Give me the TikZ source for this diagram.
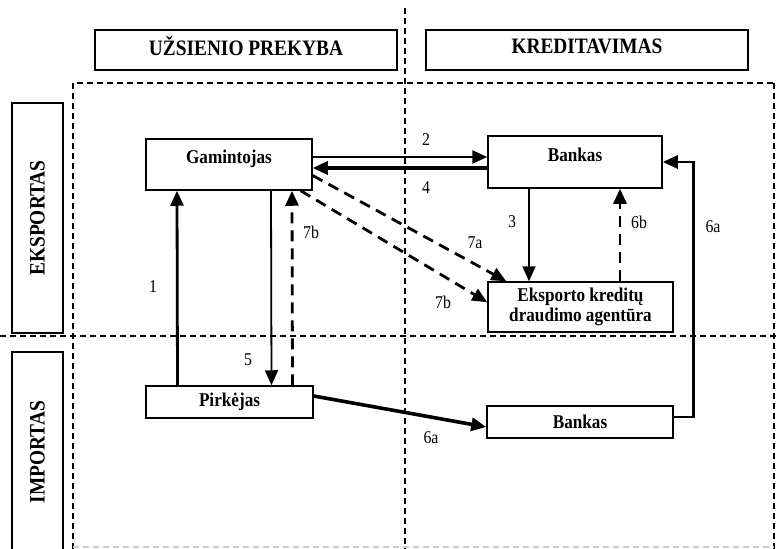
\documentclass[tikz,border=0pt]{standalone}
\usepackage{fontspec}
\setmainfont{Liberation Serif}[FakeStretch = 0.88]
\usetikzlibrary{arrows.meta}
\usetikzlibrary{positioning}
\tikzset{box/.style = {draw, line width = 1.5pt, inner sep = 0, font = \bfseries\fontsize{19.5}{20}\selectfont}}
\tikzset{headbox/.style = {box, font = \bfseries\fontsize{22}{24}\selectfont}}
\tikzset{num/.style = {font = \fontsize{18}{20}\selectfont}}
\tikzset{frame/.style = {line width = 1.2pt, dash pattern = on 6pt off 4pt}}
\tikzset{arr/.style = {line width = 2.8pt, -{Triangle[length = 15pt, width = 13pt]}}}
\tikzset{thinarr/.style = {arr, line width = 1.8pt}}
\tikzset{dasharr/.style = {arr, dash pattern = on 11pt off 7pt}}

\begin{document}
\begin{tikzpicture}[x = 1pt, y = -1pt]
          \useasboundingbox (0, 0) rectangle (777, 549);
          \draw [frame] (405, 8) -- (405, 549);
          \draw [frame] (73, 549) -- (73, 83) -- (777, 83);
          \draw [frame] (774, 83) -- (774, 549);
          \draw [frame] (0, 336) -- (777, 336);
          \draw [frame, gray!40] (73, 547) -- (774, 547);

          \node [headbox, minimum width = 302pt, minimum height = 40pt, text depth = 8pt] (trade) at (246, 50) {UŽSIENIO PREKYBA};
          \node [headbox, minimum width = 322pt, minimum height = 40pt, text depth = 8pt] (credit) at (587, 50) {KREDITAVIMAS};
          \node [headbox, rotate = 90, minimum width = 230pt, minimum height = 51pt] (export) at (37.5, 218) {EKSPORTAS};
          \draw [line width = 1.5pt] (12, 549) -- (12, 352) -- (63, 352) -- (63, 549);
          \node [headbox, draw = none, rotate = 90] (import) at (37.5, 452) {IMPORTAS};

          \node [box, minimum width = 166pt, minimum height = 51pt, text depth = 16pt] (maker) at (229, 164.5) {Gamintojas};
          \node [box, minimum width = 174pt, minimum height = 52pt, text depth = 14pt] (bank) at (575, 162) {Bankas};
          \node [box, minimum width = 185pt, minimum height = 50pt, align = center] (agency) at (580.5, 307) {Eksporto kreditų\\draudimo agentūra};
          \node [box, minimum width = 167pt, minimum height = 32pt] (buyer) at (229.5, 402) {Pirkėjas};
          \node [box, minimum width = 186pt, minimum height = 32pt] (bankb) at (580, 422) {Bankas};

          \coordinate (c3) at ([xshift = -46pt]bank.south);
          \coordinate (c6b) at ([xshift = 45pt]bank.south);

          \draw [arr, line width = 2.4pt] ([yshift = 7.5pt]maker.east) -- ([yshift = 5pt]bank.west);
          \draw [arr, line width = 3.4pt] ([yshift = -6pt]bank.west) -- ([yshift = -3.5pt]maker.east);
          \draw [arr] ([xshift = -52pt]buyer.north) -- ([xshift = -52pt]maker.south);
          \draw [thinarr] ([xshift = 42pt]maker.south) -- ([xshift = 42pt]buyer.north);
          \draw [dasharr] ([xshift = 63pt]buyer.north) -- ([xshift = 63pt]maker.south);
          \draw [dasharr] ([yshift = -11pt]maker.east) -- ([xshift = 19pt]agency.north west);
          \draw [dasharr] ([xshift = -12pt]maker.south east) -- ([yshift = -21pt]agency.north west);
          \draw [thinarr] (c3) -- (c3 |- agency.north);
          \draw [dasharr] (c6b |- agency.north) -- (c6b);
          \draw [arr, line width = 3.6pt] ([yshift = 6pt]buyer.east) -- ([yshift = -5pt]bankb.west);
          \draw [arr] ([yshift = 5pt]bankb.east) -- ++(20, 0) |- (bank.east);

          \node [num] (n2) at (426, 140) {2};
          \node [num] (n4) at (426, 188) {4};
          \node [num] (n3) at (512, 222) {3};
          \node [num] (n6b) at (639, 222) {6b};
          \node [num] (n6a) at (713, 227) {6a};
          \node [num] (n7a) at (475, 243) {7a};
          \node [num] (n7b) at (311, 232) {7b};
          \node [num] (n1) at (153, 287) {1};
          \node [num] (n7c) at (443, 302) {7b};
          \node [num] (n5) at (248, 360) {5};
          \node [num] (n6c) at (431, 438) {6a};
        \end{tikzpicture}
\end{document}
